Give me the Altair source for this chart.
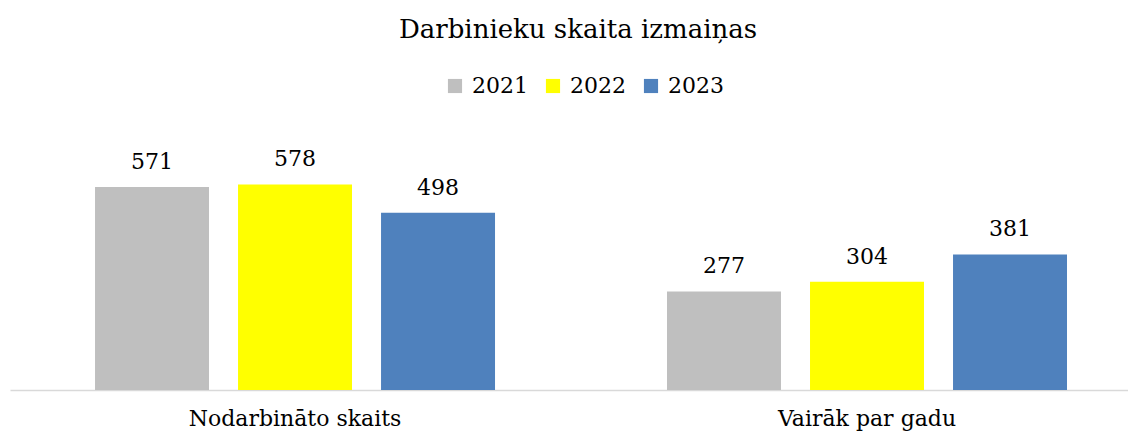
import altair as alt
import pandas as pd

categories = ["Nodarbināto skaits", "Vairāk par gadu"]
years = ["2021", "2022", "2023"]
values_2021 = [571, 277]
values_2022 = [578, 304]
values_2023 = [498, 381]
colors = ["#bfbfbf", "#ffff00", "#4f81bd"]

rows = []
for yr, vals in zip(years, [values_2021, values_2022, values_2023]):
    for c, v in zip(categories, vals):
        rows.append({"cat": c, "year": yr, "value": v})
df = pd.DataFrame(rows)

FONT = "DejaVu Serif"

x = alt.X("cat:N", sort=categories, title=None,
          scale=alt.Scale(paddingInner=0.0874, paddingOuter=0.021, align=1),
          axis=alt.Axis(labelAngle=0, ticks=False, labelFontSize=22, labelFont=FONT,
                        labelColor="#000000", labelPadding=18, labelLimit=0,
                        domainColor="#d9d9d9", domainWidth=1.5, grid=False))
xo = alt.XOffset("year:N", sort=years,
                 scale=alt.Scale(paddingInner=0.203, paddingOuter=0.4265))
y = alt.Y("value:Q", scale=alt.Scale(domain=[0, 700]), axis=None)

bars = alt.Chart(df).mark_bar().encode(
    x=x, xOffset=xo, y=y,
    color=alt.Color("year:N", sort=years,
                    scale=alt.Scale(domain=years, range=colors),
                    legend=alt.Legend(title=None, orient="none", direction="horizontal",
                                      legendX=434, legendY=-66,
                                      symbolType="square", symbolSize=200,
                                      symbolStrokeWidth=0, labelFontSize=22,
                                      labelFont=FONT, labelColor="#000000",
                                      columnPadding=14, symbolOffset=0, labelOffset=6)),
)

labels = alt.Chart(df).mark_text(dy=-13, baseline="bottom", fontSize=22, font=FONT,
                                  color="#000000").encode(
    x=alt.X("cat:N", sort=categories), xOffset=alt.XOffset("year:N", sort=years),
    y=y, text="value:Q")

chart = alt.layer(bars, labels).properties(
    width=1118, height=249,
    padding={"left": 2, "top": 133, "right": 0, "bottom": 42},
    autosize=alt.AutoSizeParams(type="none"),
    title=alt.TitleParams("Darbinieku skaita izmaiņas", font=FONT, fontSize=26,
                          fontWeight="normal", color="#000000", anchor="middle",
                          offset=32, dx=9),
).configure_view(stroke=None)

chart.save("out.html", embed_options={"renderer": "svg", "actions": False})
